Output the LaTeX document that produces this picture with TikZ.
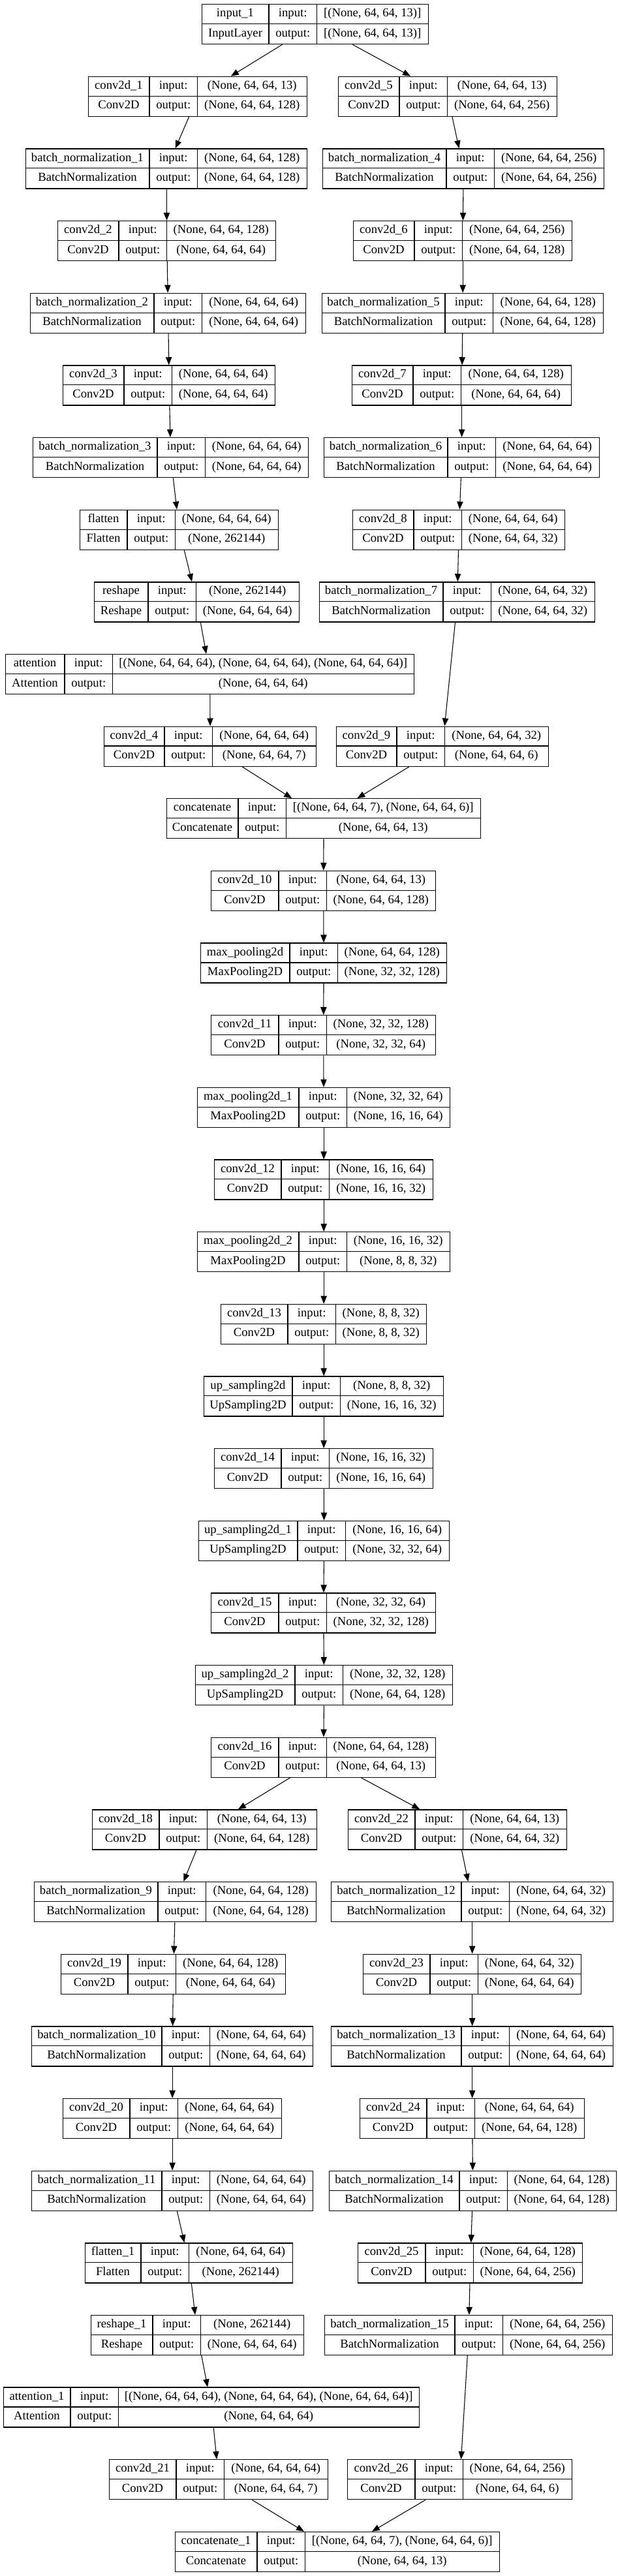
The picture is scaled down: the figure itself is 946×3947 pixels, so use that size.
\documentclass[tikz,border=0pt]{standalone}
\usepackage{fontspec}
\setmainfont{Liberation Serif}
\usetikzlibrary{arrows.meta}
\newcommand\layer[9]{%
	\pgfmathsetmacro\ltop{6+110.65*#2}%
	\pgfmathsetmacro\lmid{\ltop+30.5}%
	\pgfmathsetmacro\lbot{\ltop+61}%
	\pgfmathsetmacro\lsplit{#4+73.5}%
	\pgfmathsetmacro\lwidth{(#5-#3)*0.75}%
	\node[box,minimum width=\lwidth pt,anchor=north west] (#1) at (#3,\ltop) {};
	\draw[rule] (#4,\ltop) -- (#4,\lbot) (\lsplit,\ltop) -- (\lsplit,\lbot) (#3,\lmid) -- (#5,\lmid);
	\node[txt] at ({(#3+#4)/2},\ltop+15.25) {#6};
	\node[txt] at ({(#3+#4)/2},\lmid+15.25) {#7};
	\node[txt] at ({#4+36.75},\ltop+15.25) {input:};
	\node[txt] at ({#4+36.75},\lmid+15.25) {output:};
	\node[txt] at ({(\lsplit+#5)/2},\ltop+15.25) {#8};
	\node[txt] at ({(\lsplit+#5)/2},\lmid+15.25) {#9};
}
\begin{document}
\begin{tikzpicture}[x=0.75pt,y=-0.75pt,
	box/.style={draw,line width=1pt,inner sep=0pt,minimum height=45.75pt},
	rule/.style={line width=0.8pt},
	txt/.style={inner sep=0pt,text height=9.7pt,text depth=3pt,font=\fontsize{14pt}{17pt}\selectfont},
	arr/.style={line width=0.8pt,-{Triangle[length=9pt,width=7pt]}}]
	\useasboundingbox (0,0) rectangle (946,3947);
	\layer{in1}{0}{309}{412}{656}{input\_1}{InputLayer}{[(None, 64, 64, 13)]}{[(None, 64, 64, 13)]}
	\layer{c1}{1}{135}{229}{470}{conv2d\_1}{Conv2D}{(None, 64, 64, 13)}{(None, 64, 64, 128)}
	\layer{c5}{1}{518}{612}{853}{conv2d\_5}{Conv2D}{(None, 64, 64, 13)}{(None, 64, 64, 256)}
	\layer{bn1}{2}{39}{229}{470}{batch\_normalization\_1}{BatchNormalization}{(None, 64, 64, 128)}{(None, 64, 64, 128)}
	\layer{bn4}{2}{494}{684}{925}{batch\_normalization\_4}{BatchNormalization}{(None, 64, 64, 256)}{(None, 64, 64, 256)}
	\layer{c2}{3}{88}{182}{422}{conv2d\_2}{Conv2D}{(None, 64, 64, 128)}{(None, 64, 64, 64)}
	\layer{c6}{3}{541}{635}{876}{conv2d\_6}{Conv2D}{(None, 64, 64, 256)}{(None, 64, 64, 128)}
	\layer{bn2}{4}{46}{236}{468}{batch\_normalization\_2}{BatchNormalization}{(None, 64, 64, 64)}{(None, 64, 64, 64)}
	\layer{bn5}{4}{493}{682}{924}{batch\_normalization\_5}{BatchNormalization}{(None, 64, 64, 128)}{(None, 64, 64, 128)}
	\layer{c3}{5}{96}{190}{421}{conv2d\_3}{Conv2D}{(None, 64, 64, 64)}{(None, 64, 64, 64)}
	\layer{c7}{5}{539}{633}{875}{conv2d\_7}{Conv2D}{(None, 64, 64, 128)}{(None, 64, 64, 64)}
	\layer{bn3}{6}{50}{241}{472}{batch\_normalization\_3}{BatchNormalization}{(None, 64, 64, 64)}{(None, 64, 64, 64)}
	\layer{bn6}{6}{496}{686}{918}{batch\_normalization\_6}{BatchNormalization}{(None, 64, 64, 64)}{(None, 64, 64, 64)}
	\layer{fl}{7}{122}{195}{426}{flatten}{Flatten}{(None, 64, 64, 64)}{(None, 262144)}
	\layer{c8}{7}{540}{634}{865}{conv2d\_8}{Conv2D}{(None, 64, 64, 64)}{(None, 64, 64, 32)}
	\layer{rs}{8}{144}{227}{458}{reshape}{Reshape}{(None, 262144)}{(None, 64, 64, 64)}
	\layer{bn7}{8}{489}{679}{911}{batch\_normalization\_7}{BatchNormalization}{(None, 64, 64, 32)}{(None, 64, 64, 32)}
	\layer{att}{9}{8}{99}{634}{attention}{Attention}{[(None, 64, 64, 64), (None, 64, 64, 64), (None, 64, 64, 64)]}{(None, 64, 64, 64)}
	\layer{c4}{10}{159}{252}{484}{conv2d\_4}{Conv2D}{(None, 64, 64, 64)}{(None, 64, 64, 7)}
	\layer{c9}{10}{515}{608}{840}{conv2d\_9}{Conv2D}{(None, 64, 64, 32)}{(None, 64, 64, 6)}
	\layer{cat}{11}{255}{365}{736}{concatenate}{Concatenate}{[(None, 64, 64, 7), (None, 64, 64, 6)]}{(None, 64, 64, 13)}
	\layer{c10}{12}{323}{427}{667}{conv2d\_10}{Conv2D}{(None, 64, 64, 13)}{(None, 64, 64, 128)}
	\layer{mp0}{13}{307}{444}{684}{max\_pooling2d}{MaxPooling2D}{(None, 64, 64, 128)}{(None, 32, 32, 128)}
	\layer{c11}{14}{323}{427}{667}{conv2d\_11}{Conv2D}{(None, 32, 32, 128)}{(None, 32, 32, 64)}
	\layer{mp1}{15}{302}{458}{689}{max\_pooling2d\_1}{MaxPooling2D}{(None, 32, 32, 64)}{(None, 16, 16, 64)}
	\layer{c12}{16}{328}{431}{663}{conv2d\_12}{Conv2D}{(None, 16, 16, 64)}{(None, 16, 16, 32)}
	\layer{mp2}{17}{302}{458}{689}{max\_pooling2d\_2}{MaxPooling2D}{(None, 16, 16, 32)}{(None, 8, 8, 32)}
	\layer{c13}{18}{338}{441}{653}{conv2d\_13}{Conv2D}{(None, 8, 8, 32)}{(None, 8, 8, 32)}
	\layer{us0}{19}{312}{448}{679}{up\_sampling2d}{UpSampling2D}{(None, 8, 8, 32)}{(None, 16, 16, 32)}
	\layer{c14}{20}{328}{431}{663}{conv2d\_14}{Conv2D}{(None, 16, 16, 32)}{(None, 16, 16, 64)}
	\layer{us1}{21}{304}{456}{688}{up\_sampling2d\_1}{UpSampling2D}{(None, 16, 16, 64)}{(None, 32, 32, 64)}
	\layer{c15}{22}{323}{427}{667}{conv2d\_15}{Conv2D}{(None, 32, 32, 64)}{(None, 32, 32, 128)}
	\layer{us2}{23}{299}{452}{693}{up\_sampling2d\_2}{UpSampling2D}{(None, 32, 32, 128)}{(None, 64, 64, 128)}
	\layer{c16}{24}{323}{427}{667}{conv2d\_16}{Conv2D}{(None, 64, 64, 128)}{(None, 64, 64, 13)}
	\layer{c18}{25}{141}{244}{485}{conv2d\_18}{Conv2D}{(None, 64, 64, 13)}{(None, 64, 64, 128)}
	\layer{c22}{25}{533}{636}{868}{conv2d\_22}{Conv2D}{(None, 64, 64, 13)}{(None, 64, 64, 32)}
	\layer{bn9}{26}{52}{242}{484}{batch\_normalization\_9}{BatchNormalization}{(None, 64, 64, 128)}{(None, 64, 64, 128)}
	\layer{bn12}{26}{507}{707}{939}{batch\_normalization\_12}{BatchNormalization}{(None, 64, 64, 32)}{(None, 64, 64, 32)}
	\layer{c19}{27}{93}{196}{437}{conv2d\_19}{Conv2D}{(None, 64, 64, 128)}{(None, 64, 64, 64)}
	\layer{c23}{27}{556}{659}{890}{conv2d\_23}{Conv2D}{(None, 64, 64, 32)}{(None, 64, 64, 64)}
	\layer{bn10}{28}{48}{248}{479}{batch\_normalization\_10}{BatchNormalization}{(None, 64, 64, 64)}{(None, 64, 64, 64)}
	\layer{bn13}{28}{507}{707}{939}{batch\_normalization\_13}{BatchNormalization}{(None, 64, 64, 64)}{(None, 64, 64, 64)}
	\layer{c20}{29}{96}{199}{431}{conv2d\_20}{Conv2D}{(None, 64, 64, 64)}{(None, 64, 64, 64)}
	\layer{c24}{29}{551}{654}{895}{conv2d\_24}{Conv2D}{(None, 64, 64, 64)}{(None, 64, 64, 128)}
	\layer{bn11}{30}{48}{248}{479}{batch\_normalization\_11}{BatchNormalization}{(None, 64, 64, 64)}{(None, 64, 64, 64)}
	\layer{bn14}{30}{504}{704}{944}{batch\_normalization\_14}{BatchNormalization}{(None, 64, 64, 128)}{(None, 64, 64, 128)}
	\layer{fl1}{31}{130}{216}{448}{flatten\_1}{Flatten}{(None, 64, 64, 64)}{(None, 262144)}
	\layer{c25}{31}{548}{652}{892}{conv2d\_25}{Conv2D}{(None, 64, 64, 128)}{(None, 64, 64, 256)}
	\layer{rs1}{32}{139}{234}{465}{reshape\_1}{Reshape}{(None, 262144)}{(None, 64, 64, 64)}
	\layer{bn15}{32}{497}{697}{938}{batch\_normalization\_15}{BatchNormalization}{(None, 64, 64, 256)}{(None, 64, 64, 256)}
	\layer{att1}{33}{5}{108}{642}{attention\_1}{Attention}{[(None, 64, 64, 64), (None, 64, 64, 64), (None, 64, 64, 64)]}{(None, 64, 64, 64)}
	\layer{c21}{34}{167}{270}{502}{conv2d\_21}{Conv2D}{(None, 64, 64, 64)}{(None, 64, 64, 7)}
	\layer{c26}{34}{532}{636}{876}{conv2d\_26}{Conv2D}{(None, 64, 64, 256)}{(None, 64, 64, 6)}
	\layer{cat1}{35}{268}{394}{765}{concatenate\_1}{Concatenate}{[(None, 64, 64, 7), (None, 64, 64, 6)]}{(None, 64, 64, 13)}
	\draw[arr] (in1) -- (c1);
	\draw[arr] (in1) -- (c5);
	\draw[arr] (c1) -- (bn1);
	\draw[arr] (bn1) -- (c2);
	\draw[arr] (c2) -- (bn2);
	\draw[arr] (bn2) -- (c3);
	\draw[arr] (c3) -- (bn3);
	\draw[arr] (bn3) -- (fl);
	\draw[arr] (fl) -- (rs);
	\draw[arr] (rs) -- (att);
	\draw[arr] (att) -- (c4);
	\draw[arr] (c4) -- (cat);
	\draw[arr] (c5) -- (bn4);
	\draw[arr] (bn4) -- (c6);
	\draw[arr] (c6) -- (bn5);
	\draw[arr] (bn5) -- (c7);
	\draw[arr] (c7) -- (bn6);
	\draw[arr] (bn6) -- (c8);
	\draw[arr] (c8) -- (bn7);
	\draw[arr] (bn7) -- (c9);
	\draw[arr] (c9) -- (cat);
	\draw[arr] (cat) -- (c10);
	\draw[arr] (c10) -- (mp0);
	\draw[arr] (mp0) -- (c11);
	\draw[arr] (c11) -- (mp1);
	\draw[arr] (mp1) -- (c12);
	\draw[arr] (c12) -- (mp2);
	\draw[arr] (mp2) -- (c13);
	\draw[arr] (c13) -- (us0);
	\draw[arr] (us0) -- (c14);
	\draw[arr] (c14) -- (us1);
	\draw[arr] (us1) -- (c15);
	\draw[arr] (c15) -- (us2);
	\draw[arr] (us2) -- (c16);
	\draw[arr] (c16) -- (c18);
	\draw[arr] (c16) -- (c22);
	\draw[arr] (c18) -- (bn9);
	\draw[arr] (bn9) -- (c19);
	\draw[arr] (c19) -- (bn10);
	\draw[arr] (bn10) -- (c20);
	\draw[arr] (c20) -- (bn11);
	\draw[arr] (bn11) -- (fl1);
	\draw[arr] (fl1) -- (rs1);
	\draw[arr] (rs1) -- (att1);
	\draw[arr] (att1) -- (c21);
	\draw[arr] (c21) -- (cat1);
	\draw[arr] (c22) -- (bn12);
	\draw[arr] (bn12) -- (c23);
	\draw[arr] (c23) -- (bn13);
	\draw[arr] (bn13) -- (c24);
	\draw[arr] (c24) -- (bn14);
	\draw[arr] (bn14) -- (c25);
	\draw[arr] (c25) -- (bn15);
	\draw[arr] (bn15) -- (c26);
	\draw[arr] (c26) -- (cat1);
\end{tikzpicture}
\end{document}
